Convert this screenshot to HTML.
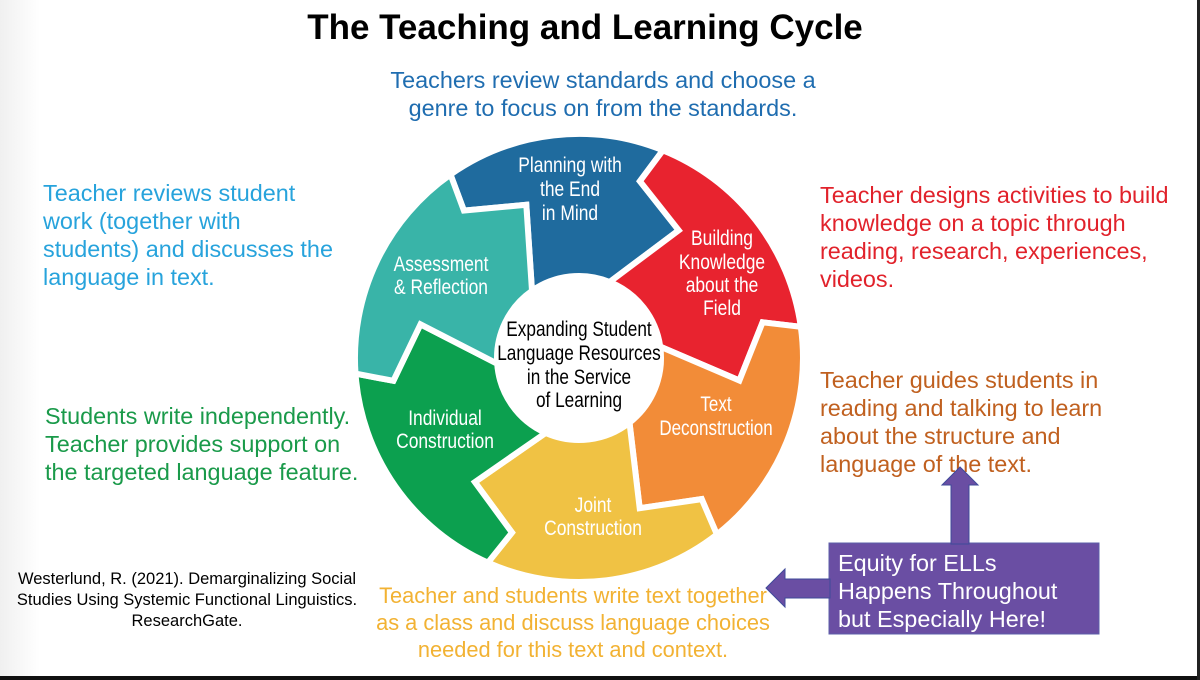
<!DOCTYPE html>
<html><head><meta charset="utf-8"><style>
html,body{margin:0;padding:0;}
body{width:1200px;height:680px;position:relative;overflow:hidden;background:linear-gradient(90deg,#f0f0f0 0,#fff 40px,#fff 100%);font-family:"Liberation Sans",sans-serif;}
.t{position:absolute;font-size:23.4px;line-height:28px;white-space:nowrap;}
</style></head><body>
<div class="t" style="left:0;width:1170px;top:8px;text-align:center;font-weight:bold;font-size:35px;line-height:40px;color:#000">The Teaching and Learning Cycle</div>
<div class="t" style="left:303px;width:600px;top:66px;text-align:center;color:#1f6db0">Teachers review standards and choose a<br>genre to focus on from the standards.</div>
<div class="t" style="left:43px;top:179px;color:#27a3dc">Teacher reviews student<br>work (together with<br>students) and discusses the<br>language in text.</div>
<div class="t" style="left:820px;top:181px;color:#e1222b">Teacher designs activities to build<br>knowledge on a topic through<br>reading, research, experiences,<br>videos.</div>
<div class="t" style="left:820px;top:366px;color:#c0601f">Teacher guides students in<br>reading and talking to learn<br>about the structure and<br>language of the text.</div>
<div class="t" style="left:45px;top:402px;color:#1a9a4a">Students write independently.<br>Teacher provides support on<br>the targeted language feature.</div>
<div class="t" style="left:273px;width:600px;top:582px;text-align:center;color:#f2b233;line-height:27px;font-size:21.8px">Teacher and students write text together<br>as a class and discuss language choices<br>needed for this text and context.</div>
<div class="t" style="left:0;width:374px;top:569px;text-align:center;color:#000;font-size:16.5px;line-height:21px">Westerlund, R. (2021). Demarginalizing Social<br>Studies Using Systemic Functional Linguistics.<br>ResearchGate.</div>

<svg width="1200" height="680" style="position:absolute;left:0;top:0">
<g id="wheel"></g>
<g font-family="Liberation Sans, sans-serif" font-size="21" fill="#fff" text-anchor="middle">
<g transform="translate(570,0) scale(0.83,1)"><text x="0" y="172">Planning with</text><text x="0" y="196">the End</text><text x="0" y="220">in Mind</text></g>
<g transform="translate(722,0) scale(0.83,1)"><text x="0" y="245">Building</text><text x="0" y="269">Knowledge</text><text x="0" y="292">about the</text><text x="0" y="315">Field</text></g>
<g transform="translate(441,0) scale(0.83,1)"><text x="0" y="271">Assessment</text><text x="0" y="294">&amp; Reflection</text></g>
<g transform="translate(445,0) scale(0.83,1)"><text x="0" y="425">Individual</text><text x="0" y="448">Construction</text></g>
<g transform="translate(716,0) scale(0.81,1)"><text x="0" y="411">Text</text><text x="0" y="435">Deconstruction</text></g>
<g transform="translate(593,0) scale(0.83,1)"><text x="0" y="512">Joint</text><text x="0" y="535">Construction</text></g>
<g fill="#000" transform="translate(579,0) scale(0.82,1)"><text x="0" y="336">Expanding Student</text><text x="0" y="360">Language Resources</text><text x="0" y="384">in the Service</text><text x="0" y="407">of Learning</text></g>
</g>
<rect x="829" y="543" width="270" height="91" fill="#6a4ea3" stroke="#5c5fa8" stroke-width="1"/>
<polygon points="951,544 951,485 942,485 960,467 978,485 969,485 969,544" fill="#6a4ea3" stroke="#3f4a9a" stroke-width="1"/>
<polygon points="830,579 785,579 785,569 766,588 785,607 785,598 830,598" fill="#6a4ea3" stroke="#3f4a9a" stroke-width="1"/>
<rect x="0" y="676" width="1200" height="4" fill="#111"/>
<rect x="1197" y="0" width="3" height="680" fill="#222"/>
</svg>
<div class="t" style="left:838px;top:549px;color:#fff;line-height:28px">Equity for ELLs<br>Happens Throughout<br>but Especially Here!</div>
<script>
(function(){
var cx=579,cy=358,R=224,r=82,m=162,tip=16;
function P(a,rad){a=a*Math.PI/180;return (cx+rad*Math.sin(a)).toFixed(1)+","+(cy-rad*Math.cos(a)).toFixed(1);}
var b=[325,22,82,142,204,266];
var col=["#1f6b9e","#e8232f","#f28c38","#f0c244","#0ca04f","#39b4a8"];
var g=document.getElementById("wheel"),h="";
for(var i=0;i<6;i++){
 var s=b[i],e=b[(i+1)%6];if(e<s)e+=360;
 var d="M"+P(s,R)+" A"+R+","+R+" 0 0 1 "+P(e,R)+" L"+P(e-3,m+25)+" L"+P(e+tip,m)+" L"+P(e,r)+" A"+r+","+r+" 0 0 0 "+P(s,r)+" L"+P(s+tip,m)+" L"+P(s-3,m+25)+" Z";
 h+='<path d="'+d+'" fill="'+col[i]+'" stroke="#fff" stroke-width="6" stroke-linejoin="miter"/>';
}
h+='<circle cx="'+cx+'" cy="'+cy+'" r="'+(r-2)+'" fill="#fff"/>';
g.innerHTML=h;
})();
</script>
</body></html>
